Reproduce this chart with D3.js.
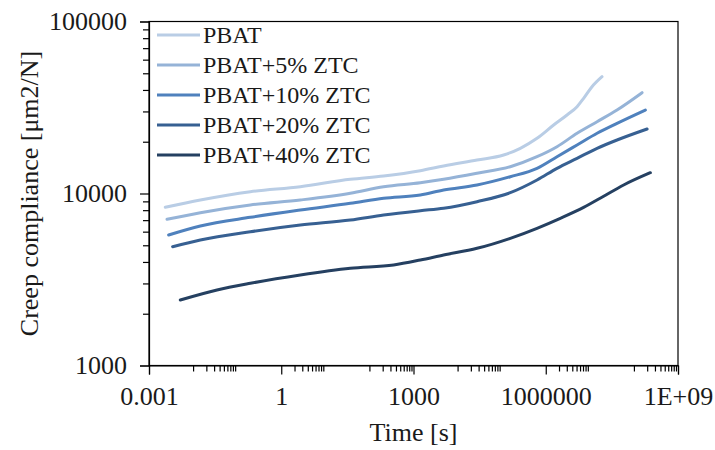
<!DOCTYPE html>
<html>
<head>
<meta charset="utf-8">
<script src="https://cdn.jsdelivr.net/npm/d3@7"></script>
<style>
  body { margin: 0; background: #fff; }
  svg text { font-family: "Liberation Serif", "Times New Roman", serif; fill: #1a1a1a; }
</style>
</head>
<body>
<svg id="chart" width="715" height="450"></svg>
<script>
// series labels and colours (lightest -> darkest)
var seriesNames = ["PBAT", "PBAT+5% ZTC", "PBAT+10% ZTC", "PBAT+20% ZTC", "PBAT+40% ZTC"];
var seriesColors = ["#b9cde5", "#95b3d7", "#4f81bd", "#376092", "#254061"];

// time [s] and creep compliance [um2/N]
var tPBAT  = [0.00234, 0.0146, 0.199, 2.71, 36.9, 210, 1428, 4820, 27600, 110700, 265000, 634000, 1.51e6, 3.04e6, 5.13e6, 7.23e6, 1.12e7, 1.89e7];
var cPBAT  = [8314, 9167, 10245, 10953, 12093, 12637, 13568, 14452, 15658, 16742, 18313, 20937, 25020, 28610, 31970, 35770, 41770, 47770];

var tZ5  = [0.00256, 0.0146, 0.199, 2.71, 36.9, 210, 1428, 4820, 27600, 157000, 634000, 1.8e6, 5.13e6, 1.46e7, 4.14e7, 1.53e8];
var cZ5  = [7079, 7735, 8574, 9167, 10028, 10953, 11555, 12093, 13103, 14316, 16368, 18710, 22387, 26150, 30580, 38550];

var tZ10 = [0.00279, 0.0146, 0.199, 2.71, 36.9, 210, 1428, 4820, 27600, 157000, 634000, 1.8e6, 5.13e6, 1.46e7, 4.14e7, 1.82e8];
var cZ10 = [5739, 6471, 7271, 8020, 8770, 9378, 9801, 10478, 11205, 12520, 14010, 16368, 19143, 22387, 25590, 30580];

var tZ20 = [0.00343, 0.0146, 0.199, 2.71, 36.9, 210, 1428, 4820, 27600, 157000, 634000, 1.8e6, 5.13e6, 1.46e7, 4.14e7, 1.99e8];
var cZ20 = [4906, 5366, 5996, 6559, 7011, 7499, 7943, 8204, 8962, 10108, 11980, 14010, 16020, 18313, 20464, 23714];

var tZ40 = [0.00513, 0.0349, 0.199, 2.71, 36.9, 354, 1428, 4820, 27600, 157000, 634000, 2.14e6, 7.23e6, 2.06e7, 5.85e7, 2.36e8];
var cZ40 = [2403, 2748, 3005, 3359, 3674, 3840, 4105, 4389, 4801, 5489, 6277, 7174, 8300, 9640, 11205, 13208];

// axis ticks
var xTicks = [1e-3, 1, 1e3, 1e6, 1e9];
var xTickLabels = ["0.001", "1", "1000", "1000000", "1E+09"];
var yTicks = [1000, 10000, 100000];
var yTickLabels = ["1000", "10000", "100000"];
// minor ticks as they show up on the x axis of the original
var xMinor = [0.01, 0.02, 0.03, 0.04, 0.05, 0.06, 0.07, 0.08, 0.09,
              2, 3, 4, 5, 6, 7, 8, 9,
              100, 200, 300, 400, 500, 600, 700, 800, 900,
              1e4, 2e4, 3e4, 4e4, 5e4, 6e4, 7e4, 8e4, 9e4,
              2e6, 3e6, 4e6, 5e6, 6e6, 7e6, 8e6, 9e6,
              1e8, 2e8, 3e8, 4e8, 5e8, 6e8, 7e8, 8e8, 9e8];
var yMinor = [2000, 3000, 4000, 5000, 6000, 7000, 8000, 9000,
              20000, 30000, 40000, 50000, 60000, 70000, 80000, 90000];

var seriesT = [tPBAT, tZ5, tZ10, tZ20, tZ40];
var seriesC = [cPBAT, cZ5, cZ10, cZ20, cZ40];

var svg = d3.select("#chart");
var pLeft = 149, pRight = 678, pTop = 21.5, pBottom = 365.5;

var x = d3.scaleLog().domain([1e-3, 1e9]).range([pLeft, pRight]);
var y = d3.scaleLog().domain([1000, 100000]).range([pBottom, pTop]);

// plot border
svg.append("rect")
    .attr("x", pLeft).attr("y", pTop)
    .attr("width", pRight - pLeft).attr("height", pBottom - pTop)
    .attr("fill", "none").attr("stroke", "#000").attr("stroke-width", 1.2);

// minor ticks
svg.append("g")
    .attr("transform", "translate(0," + pBottom + ")")
    .call(d3.axisBottom(x).tickValues(xMinor).tickSize(6).tickFormat(""))
    .call(function (g) { g.select(".domain").remove(); });
svg.append("g")
    .attr("transform", "translate(" + pLeft + ",0)")
    .call(d3.axisLeft(y).tickValues(yMinor).tickSize(6).tickFormat(""))
    .call(function (g) { g.select(".domain").remove(); });

// major ticks + labels
var xAxis = svg.append("g")
    .attr("transform", "translate(0," + pBottom + ")")
    .call(d3.axisBottom(x).tickValues(xTicks).tickSizeOuter(0).tickSize(9).tickPadding(12)
        .tickFormat(function (d, i) { return xTickLabels[i]; }));
xAxis.selectAll("text").attr("font-size", 26).attr("fill", "#1a1a1a");

var yAxis = svg.append("g")
    .attr("transform", "translate(" + pLeft + ",0)")
    .call(d3.axisLeft(y).tickValues(yTicks).tickSizeOuter(0).tickSize(9).tickPadding(13)
        .tickFormat(function (d, i) { return yTickLabels[i]; }));
yAxis.selectAll("text").attr("font-size", 26).attr("fill", "#1a1a1a");

svg.selectAll(".domain, .tick line").attr("stroke", "#000").attr("stroke-width", 1.2);
svg.selectAll("g").attr("font-family", null);

// axis titles
svg.append("text")
    .attr("x", (pLeft + pRight) / 2).attr("y", 441)
    .attr("text-anchor", "middle").attr("font-size", 26)
    .text("Time [s]");
svg.append("text")
    .attr("transform", "translate(38," + ((pTop + pBottom) / 2) + ") rotate(-90)")
    .attr("text-anchor", "middle").attr("font-size", 26)
    .text("Creep compliance [μm2/N]");

// curves
var line = d3.line()
    .x(function (d) { return x(d[0]); })
    .y(function (d) { return y(d[1]); })
    .curve(d3.curveMonotoneX);

seriesNames.forEach(function (name, i) {
    var pts = seriesT[i].map(function (t, j) { return [t, seriesC[i][j]]; });
    svg.append("path")
        .datum(pts)
        .attr("d", line)
        .attr("fill", "none")
        .attr("stroke", seriesColors[i])
        .attr("stroke-width", 3)
        .attr("stroke-linecap", "round")
        .attr("stroke-linejoin", "round");
});

// legend
var legend = svg.append("g");
seriesNames.forEach(function (name, i) {
    var ly = 35 + i * 30;
    legend.append("line")
        .attr("x1", 157).attr("x2", 200)
        .attr("y1", ly).attr("y2", ly)
        .attr("stroke", seriesColors[i]).attr("stroke-width", 3);
    legend.append("text")
        .attr("x", 203).attr("y", ly)
        .attr("dy", "0.35em")
        .attr("font-size", 24)
        .text(name);
});
</script>
</body>
</html>
